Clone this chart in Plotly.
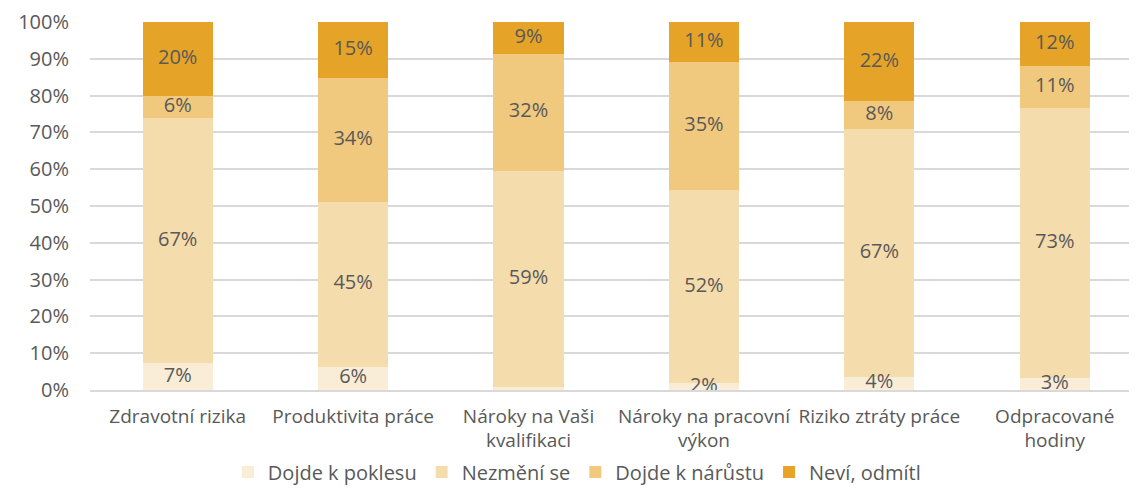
import plotly.graph_objects as go

categories = ["Zdravotní rizika", "Produktivita práce", "Nároky na Vaši<br>kvalifikaci",
              "Nároky na pracovní<br>výkon", "Riziko ztráty práce", "Odpracované<br>hodiny"]
series_names = ["Dojde k poklesu", "Nezmění se", "Dojde k nárůstu", "Neví, odmítl"]
pokles = [7.3, 6.3, 0.7, 1.9, 3.6, 3.3]
nezmeni = [66.6, 44.8, 58.8, 52.4, 67.2, 73.3]
narust = [6.0, 33.7, 31.9, 34.8, 7.6, 11.4]
nevi = [20.1, 15.2, 8.6, 10.9, 21.6, 12.0]
values = [pokles, nezmeni, narust, nevi]
colors = ["#FAEDD8", "#F5DCAD", "#F0C87E", "#E5A327"]

FONT = "Open Sans"
TXT = "#595959"

fig = go.Figure()
for name, vals, col in zip(series_names, values, colors):
    fig.add_trace(go.Bar(
        x=categories, y=vals, name=name, marker=dict(color=col, line=dict(width=0)),
        hoverinfo="skip",
    ))

# value labels drawn on top of all bars
lab_x, lab_y, lab_t = [], [], []
base = [0.0] * len(categories)
for vals in values:
    for i, v in enumerate(vals):
        if v >= 1.5:
            lab_x.append(categories[i])
            lab_y.append(base[i] + v / 2)
            lab_t.append(f"{round(v):.0f}%")
        base[i] += v
fig.add_trace(go.Scatter(
    x=lab_x, y=lab_y, text=lab_t, mode="text", showlegend=False, hoverinfo="skip",
    textposition="middle center", textfont=dict(family=FONT, size=20, color=TXT),
    cliponaxis=False,
))

# page body has an 8px margin, so the figure is 8px smaller than the window
fig.update_layout(
    barmode="stack", bargap=0.6,
    width=1129, height=480,
    margin=dict(l=82, r=0, t=14, b=98, autoexpand=False),
    paper_bgcolor="white", plot_bgcolor="white",
    font=dict(family=FONT, color=TXT, size=19),
    showlegend=True,
    legend=dict(orientation="h", x=0.465, xanchor="center", y=-0.17, yanchor="top",
                font=dict(family=FONT, size=20, color=TXT), traceorder="normal",
                itemwidth=30),
    xaxis=dict(range=[-0.5, 5.469], tickfont=dict(family=FONT, size=19, color=TXT),
               showgrid=False, showline=True, linecolor="#D9D9D9", linewidth=1.5,
               ticks="", automargin=False, ticklabelstandoff=8),
    yaxis=dict(range=[0, 100], dtick=10, ticksuffix="%", showgrid=True,
               gridcolor="#D9D9D9", gridwidth=1.5, zeroline=False,
               tickfont=dict(family=FONT, size=20, color=TXT), ticks="",
               ticklabelstandoff=20, automargin=False),
)
fig.write_html("out.html")
